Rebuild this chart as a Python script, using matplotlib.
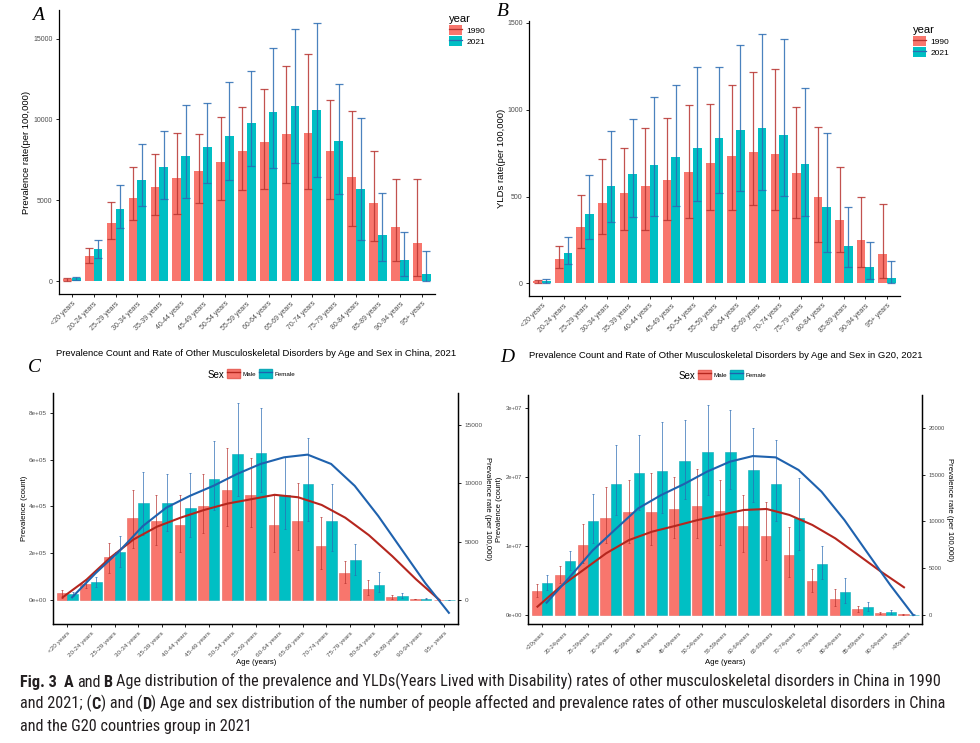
import numpy as np
import matplotlib
matplotlib.use('Agg')
import matplotlib.pyplot as plt
from matplotlib import font_manager as fm
from matplotlib.patches import Patch
from matplotlib.lines import Line2D

plt.rcParams['font.family'] = ['Liberation Sans', 'DejaVu Sans']

# ---- data ----
age_ab = ['<20 years', '20-24 years', '25-29 years', '30-34 years', '35-39 years',
          '40-44 years', '45-49 years', '50-54 years', '55-59 years', '60-64 years',
          '65-69 years', '70-74 years', '75-79 years', '80-84 years', '85-89 years',
          '90-94 years', '95+ years']
age_d = ['<20years', '20-24years', '25-29years', '30-34years', '35-39years',
         '40-44years', '45-49years', '50-54years', '55-59years', '60-64years',
         '65-69years', '70-74years', '75-79years', '80-84years', '85-89years',
         '90-94years', '>95years']

# A: prevalence rate per 100,000, China
a_1990 = [110, 1550, 3590, 5130, 5810, 6350, 6800, 7360, 8020, 8630, 9090, 9170, 8020, 6410, 4820, 3320, 2350]
a_1990_lo = [30, 1090, 2580, 3770, 4080, 4120, 4860, 4990, 5630, 5710, 6060, 5690, 5090, 3380, 2490, 1240, 330]
a_1990_hi = [200, 2020, 4900, 7070, 7870, 9150, 9110, 10160, 10780, 11890, 13290, 14030, 11210, 10550, 8020, 6330, 6330]
a_2021 = [160, 1960, 4430, 6240, 7070, 7730, 8300, 8980, 9790, 10490, 10800, 10590, 8650, 5670, 2840, 1280, 430]
a_2021_lo = [80, 1440, 3260, 4620, 5070, 5150, 6040, 6280, 7090, 7010, 7290, 6410, 5380, 2560, 1220, 290, 0]
a_2021_hi = [250, 2530, 5930, 8450, 9310, 10880, 11020, 12320, 12980, 14420, 15600, 15970, 12180, 10080, 5460, 3030, 1880]

# B: YLDs rate per 100,000, China
b_1990 = [12, 140, 326, 462, 519, 563, 596, 640, 690, 730, 755, 745, 636, 498, 366, 249, 170]
b_1990_lo = [5, 88, 203, 285, 308, 308, 366, 375, 420, 425, 452, 425, 375, 239, 180, 96, 29]
b_1990_hi = [22, 215, 511, 716, 778, 895, 950, 1027, 1034, 1142, 1218, 1232, 1017, 897, 669, 500, 458]
b_2021 = [13, 178, 402, 563, 632, 684, 728, 780, 839, 885, 895, 856, 686, 439, 216, 96, 33]
b_2021_lo = [5, 111, 255, 352, 383, 389, 446, 475, 523, 533, 540, 502, 389, 180, 96, 27, 0]
b_2021_hi = [28, 268, 623, 877, 944, 1071, 1140, 1247, 1245, 1370, 1437, 1406, 1123, 866, 439, 239, 132]

# C: China 2021 counts by sex, and rate curves
c_male = [28600, 67000, 183000, 350000, 339000, 319000, 403000, 469000, 451000, 319000, 339000, 229000, 117000, 47000, 13000, 3500, 800]
c_male_lo = [10000, 50000, 114000, 221000, 237000, 204000, 287000, 317000, 314000, 206000, 214000, 131000, 71000, 21000, 6000, 2000, 300]
c_male_hi = [43000, 90000, 243000, 470000, 451000, 449000, 541000, 649000, 607000, 450000, 500000, 357000, 166000, 84000, 20000, 5500, 1500]
c_female = [25700, 76000, 204000, 414000, 413000, 393000, 517000, 624000, 631000, 449000, 496000, 336000, 171000, 66000, 17000, 5000, 1000]
c_female_lo = [15000, 54000, 140000, 279000, 296000, 269000, 383000, 443000, 460000, 304000, 340000, 210000, 107000, 36000, 10000, 3000, 500]
c_female_hi = [36000, 97000, 274000, 547000, 540000, 543000, 679000, 843000, 821000, 610000, 694000, 497000, 240000, 119000, 29000, 7500, 1800]
c_rate_male = [230, 1720, 3590, 5170, 6270, 7040, 7700, 8250, 8620, 9000, 8790, 8130, 7040, 5550, 3740, 1780, 0]
c_rate_female = [230, 2300, 4170, 6320, 7900, 8910, 9770, 10780, 11640, 12210, 12440, 11640, 9770, 7190, 4310, 1440, -1100]

# D: G20 2021 counts by sex, and rate curves
d_male = [3.52e6, 5.84e6, 10.13e6, 13.99e6, 14.95e6, 14.86e6, 15.34e6, 15.8e6, 15.0e6, 12.9e6, 11.5e6, 8.68e6, 4.87e6, 2.36e6, 0.82e6, 0.24e6, 0.1e6]
d_male_lo = [2.56e6, 4.63e6, 7.48e6, 10.37e6, 10.37e6, 10.2e6, 11.1e6, 11.1e6, 10.1e6, 9.17e6, 7.96e6, 5.55e6, 3.28e6, 1.3e6, 0.48e6, 0.12e6, 0.05e6]
d_male_hi = [4.44e6, 7.04e6, 13.2e6, 18.5e6, 19.5e6, 20.5e6, 19.9e6, 21.1e6, 19.6e6, 17.3e6, 16.3e6, 12.7e6, 6.61e6, 3.71e6, 1.35e6, 0.43e6, 0.18e6]
d_female = [4.63e6, 7.81e6, 13.65e6, 18.9e6, 20.5e6, 20.8e6, 22.3e6, 23.6e6, 23.6e6, 21.0e6, 18.9e6, 14.1e6, 7.43e6, 3.28e6, 1.16e6, 0.39e6, 0.05e6]
d_female_lo = [3.62e6, 6.51e6, 10.37e6, 14.4e6, 15.2e6, 14.8e6, 16.8e6, 17.4e6, 18.2e6, 16.3e6, 13.65e6, 9.41e6, 5.16e6, 1.69e6, 0.58e6, 0.2e6, 0.02e6]
d_female_hi = [5.84e6, 9.31e6, 17.5e6, 24.55e6, 26.1e6, 27.9e6, 28.2e6, 30.4e6, 29.6e6, 27.0e6, 25.3e6, 19.8e6, 9.94e6, 5.4e6, 1.83e6, 0.68e6, 0.09e6]
d_rate_male = [890, 3030, 4810, 6600, 8020, 8910, 9520, 10160, 10700, 11230, 11340, 10700, 9630, 8200, 6420, 4630, 2960]
d_rate_female = [1320, 4030, 6880, 9160, 11410, 12830, 14010, 15330, 16400, 17000, 16860, 15510, 13190, 10160, 6670, 3210, 0]

cap_lines = [
    [('Fig. 3', True, 0), ('A', True, 5), ('and', False, 2.4), ('B', True, 2.4),
     ('Age distribution of the prevalence and YLDs(Years Lived with Disability) '
      'rates of other musculoskeletal disorders in China in 1990', False, 2.4)],
    [('and 2021; (', False, 0), ('C', True, 0), (') and (', False, 0), ('D', True, 0),
     (') Age and sex distribution of the number of people affected and prevalence '
      'rates of other musculoskeletal disorders in China', False, 0)],
    [('and the G20 countries group in 2021', False, 0)],
]

RED = '#F8766D'
TEAL = '#00BFC4'
RED_ERR = '#B83430'
BLUE_ERR = '#2B6CB3'
RED_LINE = '#B5261E'
BLUE_LINE = '#1F62AE'
TXT = '#4D4D4D'

W, H = 980, 743
fig = plt.figure(figsize=(W / 100, H / 100), dpi=100)


def box(l, t, r, b):
    return [l / W, 1 - b / H, (r - l) / W, (b - t) / H]


def style(ax, right=False, size=5):
    ax.spines['top'].set_visible(False)
    ax.spines['right'].set_visible(right)
    for s in ax.spines.values():
        s.set_linewidth(0.9)
    ax.tick_params(labelsize=size, labelcolor=TXT, length=2.5, width=0.6, pad=2)
    ax.set_xlim(-0.6, 16.6)


def rate_panel(ax, lab, v1, lo1, hi1, v2, lo2, hi2, ylim, yticks, ylabel, ylab_x):
    x = np.arange(len(lab))
    w = 0.4
    ax.bar(x - w / 2, v1, w, color=RED, zorder=2)
    ax.bar(x + w / 2, v2, w, color=TEAL, zorder=2)
    v1, v2 = np.array(v1), np.array(v2)
    ax.errorbar(x - w / 2, v1, yerr=[v1 - lo1, np.array(hi1) - v1], fmt='none',
                ecolor=RED_ERR, elinewidth=0.9, capsize=3, capthick=0.9, alpha=0.85, zorder=3)
    ax.errorbar(x + w / 2, v2, yerr=[v2 - lo2, np.array(hi2) - v2], fmt='none',
                ecolor=BLUE_ERR, elinewidth=0.9, capsize=3, capthick=0.9, alpha=0.85, zorder=3)
    style(ax)
    ax.set_ylim(*ylim)
    ax.set_yticks(yticks)
    ax.set_xticks(x)
    ax.set_xticklabels(lab, rotation=45, ha='right', va='top', rotation_mode='anchor')
    ax.set_ylabel(ylabel, fontsize=6.8, va='center')
    ax.yaxis.set_label_coords(ylab_x, 0.5)


def year_legend(x, y):
    hs = [(Patch(fc=RED, ec='none'), Line2D([], [], color=RED_ERR, lw=0.9)),
          (Patch(fc=TEAL, ec='none'), Line2D([], [], color=BLUE_ERR, lw=0.9))]
    leg = fig.legend(hs, ['1990', '2021'], title='year', loc='upper left',
                     bbox_to_anchor=(x / W, 1 - y / H), frameon=False, fontsize=6,
                     title_fontsize=8, handlelength=1.6, handleheight=1.5,
                     handletextpad=0.5, labelspacing=0.1, borderaxespad=0, borderpad=0)
    leg._legend_box.align = 'left'


def sex_panel(ax, lab, m, mlo, mhi, f, flo, fhi, rm, rf, ylim, coef, yticks, ylabels,
              rticks, title, left_x, right_x, tsize):
    x = np.arange(len(lab))
    w = 0.45
    ax.bar(x - w / 2, m, w, color=RED, ec='#E8655C', lw=0.4, zorder=2)
    ax.bar(x + w / 2, f, w, color=TEAL, ec='#10A9B8', lw=0.4, zorder=2)
    m, f = np.array(m), np.array(f)
    ax.errorbar(x - w / 2, m, yerr=[m - mlo, np.array(mhi) - m], fmt='none',
                ecolor=RED_ERR, elinewidth=0.7, capsize=0.8, capthick=0.7, alpha=0.7, zorder=3)
    ax.errorbar(x + w / 2, f, yerr=[f - flo, np.array(fhi) - f], fmt='none',
                ecolor=BLUE_ERR, elinewidth=0.7, capsize=0.8, capthick=0.7, alpha=0.7, zorder=3)
    style(ax, right=True, size=tsize)
    ax.set_ylim(*ylim)
    ax.set_yticks(yticks)
    ax.set_yticklabels(ylabels)
    ax.set_xticks(x)
    ax.set_xticklabels(lab, rotation=45, ha='right', va='top', rotation_mode='anchor')
    ax.set_ylabel('Prevalence (count)', fontsize=5.6, va='center')
    ax.yaxis.set_label_coords(left_x, 0.5)
    ax.set_xlabel('Age (years)', fontsize=5.6, va='center')
    ax.xaxis.set_label_coords(0.5, -0.165)

    ax2 = ax.twinx()
    ax2.plot(x - 0.2, rm, color=RED_LINE, lw=1.5, solid_joinstyle='round')
    ax2.plot(x + 0.2, rf, color=BLUE_LINE, lw=1.5, solid_joinstyle='round')
    ax2.set_ylim(ylim[0] / coef, ylim[1] / coef)
    ax2.set_yticks(rticks)
    ax2.spines['top'].set_visible(False)
    for s in ax2.spines.values():
        s.set_linewidth(0.9)
    ax2.tick_params(labelsize=tsize, labelcolor=TXT, length=2.5, width=0.6, pad=2)
    ax2.set_ylabel('Prevalence rate (per 100,000)', fontsize=5.6, rotation=270,
                   va='center')
    ax2.yaxis.set_label_coords(right_x, 0.5)
    ax.set_title(title, fontsize=6.8, pad=0, loc='center', y=1.16)


def sex_legend(x, y):
    hs = [(Patch(fc=RED, ec='#E8655C'), Line2D([], [], color=RED_LINE, lw=1)),
          (Patch(fc=TEAL, ec='#10A9B8'), Line2D([], [], color=BLUE_LINE, lw=1))]
    fig.text(x / W, 1 - (y + 6) / H, 'Sex', fontsize=7, ha='right', va='center')
    fig.legend(hs, ['Male', 'Female'], loc='upper left', ncol=2,
               bbox_to_anchor=((x + 3) / W, 1 - y / H), frameon=False, fontsize=4.5,
               handlelength=2.0, handleheight=1.9, handletextpad=0.4, columnspacing=0.6,
               borderaxespad=0, borderpad=0)


# ---- panel A ----
axA = fig.add_axes(box(58.7, 10, 435, 294))
rate_panel(axA, age_ab, a_1990, a_1990_lo, a_1990_hi, a_2021, a_2021_lo, a_2021_hi,
           (-800, 16770), [0, 5000, 10000, 15000], 'Prevalence rate(per 100,000)', -0.085)
year_legend(449, 14)
fig.text(32 / W, 1 - 15 / H, 'A', family='Liberation Serif', style='italic',
         fontsize=14, va='center')

# ---- panel B ----
axB = fig.add_axes(box(529, 21, 900, 296))
rate_panel(axB, age_ab, b_1990, b_1990_lo, b_1990_hi, b_2021, b_2021_lo, b_2021_hi,
           (-72, 1509), [0, 500, 1000, 1500], 'YLDs rate(per 100,000)', -0.074)
year_legend(913, 25)
fig.text(497 / W, 1 - 12 / H, 'B', family='Liberation Serif', style='italic',
         fontsize=14, va='center')

# ---- panel C ----
axC = fig.add_axes(box(53.3, 393, 458.3, 624))
sex_panel(axC, age_ab, c_male, c_male_lo, c_male_hi, c_female, c_female_lo, c_female_hi,
          c_rate_male, c_rate_female, (-102857, 885714), 50.0,
          [0, 2e5, 4e5, 6e5, 8e5], ['0e+00', '2e+05', '4e+05', '6e+05', '8e+05'],
          [0, 5000, 10000, 15000],
          'Prevalence Count and Rate of Other Musculoskeletal Disorders by Age and Sex in China, 2021',
          -0.07, 1.071, 4.6)
sex_legend(224, 369)
fig.text(28 / W, 1 - 368 / H, 'C', family='Liberation Serif', style='italic',
         fontsize=14, va='center')

# ---- panel D ----
axD = fig.add_axes(box(528.3, 395, 922.3, 624.3))
sex_panel(axD, age_d, d_male, d_male_lo, d_male_hi, d_female, d_female_lo, d_female_hi,
          d_rate_male, d_rate_female, (-1.35e6, 3.184e7), 1353.0,
          [0, 1e7, 2e7, 3e7], ['0e+00', '1e+07', '2e+07', '3e+07'],
          [0, 5000, 10000, 15000, 20000],
          'Prevalence Count and Rate of Other Musculoskeletal Disorders by Age and Sex in G20, 2021',
          -0.072, 1.068, 4.2)
sex_legend(695, 370)
fig.text(500 / W, 1 - 358 / H, 'D', family='Liberation Serif', style='italic',
         fontsize=14, va='center')

# ---- caption ----
# pick a narrow face if one is installed, then size it so line 1 spans like the original
names = {f.name for f in fm.fontManager.ttflist}
cap_kw = {'family': 'Liberation Sans'}
for nm in ['Liberation Sans Narrow', 'Roboto Condensed', 'Open Sans Condensed',
           'DejaVu Sans Condensed']:
    if nm in names:
        cap_kw = {'family': nm}
        break

cap = fig.add_axes([0, 0, 1, 1], zorder=-1)
cap.axis('off')
renderer = fig.canvas.get_renderer()
probe = cap.text(0, 0, ' '.join(p[0] for p in cap_lines[0]), fontsize=10, **cap_kw)
probe_w = probe.get_window_extent(renderer).width
probe.remove()
cap_size = 10 * 912 / probe_w


def caption_line(x, y, parts):
    t = None
    for s, bold, gap in parts:
        kw = dict(fontsize=cap_size, color='#231F20', va='bottom', ha='left',
                  weight='bold' if bold else 'normal', **cap_kw)
        if t is None:
            t = cap.annotate(s, xy=(x / W, 1 - y / H), xycoords='figure fraction', **kw)
        else:
            t = cap.annotate(s, xy=(1, 0), xycoords=t, xytext=(gap, 0),
                             textcoords='offset points', **kw)


for i, parts in enumerate(cap_lines):
    caption_line(20, 690 + 22 * i, parts)

fig.savefig('out.png', dpi=100)
